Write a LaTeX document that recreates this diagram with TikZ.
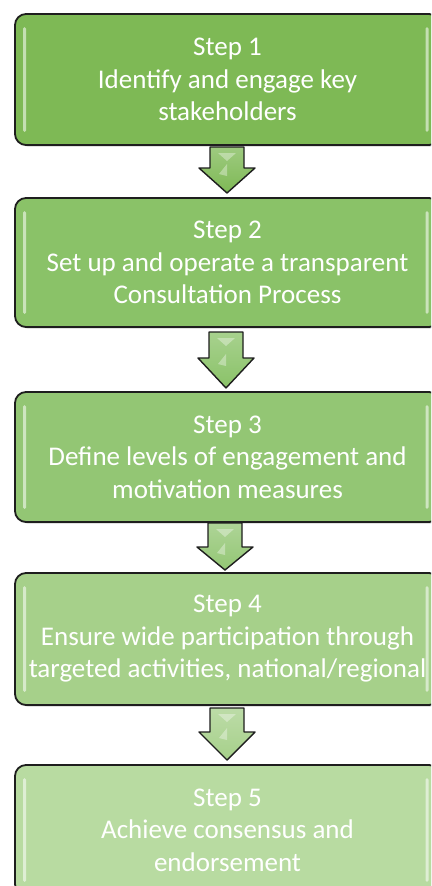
\documentclass[tikz,border=0pt]{standalone}
\usepackage{fontspec}
\setmainfont{Carlito}
\usetikzlibrary{shadows}
\definecolor{ca}{HTML}{7EB955}
\definecolor{cb}{HTML}{8AC268}
\definecolor{cc}{HTML}{93C674}
\definecolor{cd}{HTML}{A6D08A}
\definecolor{ce}{HTML}{B8DBA1}
\definecolor{edge}{HTML}{1E1E1E}
\tikzset{
  stepbox/.style={draw=edge, line width=1.8pt, rounded corners=11pt,
    minimum width=425pt, text=white, align=center,
    font=\fontsize{27}{32.5}\selectfont,
    drop shadow={opacity=0.35, shadow xshift=1.5pt, shadow yshift=-1.5pt}},
  hilite/.style={fill=white, fill opacity=0.55, rounded corners=1.5pt},
  downarrow/.style={draw=edge, line width=1.4pt, line join=round},
}
\newcommand{\blockarrow}[5]{% x-center, top, shaft bottom, tip, colour
  \draw[downarrow, top color=#5!75!white, bottom color=#5]
    (#1-17,#2) -- (#1+17,#2) -- (#1+17,#3) -- (#1+28,#3) -- (#1,#4)
    -- (#1-28,#3) -- (#1-17,#3) -- cycle;
  \fill[white, opacity=0.35] (#1-9,#2+6) -- (#1+9,#2+6) -- (#1,#2+14) -- cycle;
  \fill[white, opacity=0.35] (#1-8,#3+6) -- (#1,#3-4) -- (#1,#3+8) -- cycle;
}
\begin{document}
\begin{tikzpicture}[x=1pt, y=-1pt]
\useasboundingbox (0,0) rectangle (431,886);
\fill[white] (0,0) rectangle (431,886);
\begin{scope}
\clip (0,0) rectangle (431,886);
\node[stepbox, fill=ca, minimum height=131pt] (s1) at (227.5,79.5)
  {Step 1\\Identify and engage key\\stakeholders};
\node[stepbox, fill=cb, minimum height=129pt] (s2) at (227.5,262.5)
  {Step 2\\Set up and operate a transparent\\Consultation Process};
\node[stepbox, fill=cc, minimum height=130pt] (s3) at (227.5,457)
  {Step 3\\Define levels of engagement and\\motivation measures};
\node[stepbox, fill=cd, minimum height=132pt] (s4) at (227.5,639)
  {Step 4\\Ensure wide participation through\\targeted activities, national/regional};
\node[stepbox, fill=ce, minimum height=130pt] (s5) at (227.5,830)
  {Step 5\\Achieve consensus and\\endorsement};
\foreach \n in {s1,s2,s3,s4,s5}{
  \fill[hilite] ([xshift=9pt,yshift=-14pt]\n.north west) rectangle ([xshift=12pt,yshift=14pt]\n.south west);
  \fill[hilite] ([xshift=198pt,yshift=-14pt]\n.north) rectangle ([xshift=201pt,yshift=14pt]\n.south);
}
\end{scope}
\blockarrow{227}{147}{168}{193}{ca}
\blockarrow{226}{332}{358}{388}{cb}
\blockarrow{225}{523}{547}{570}{cc}
\blockarrow{227}{708}{732}{760}{cd}
\end{tikzpicture}
\end{document}
